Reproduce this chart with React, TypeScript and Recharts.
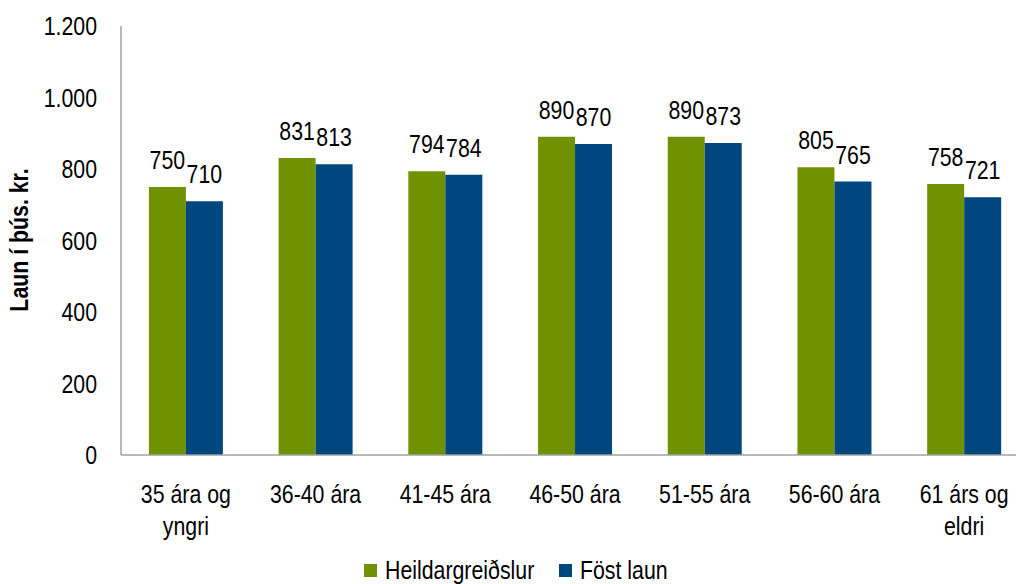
import { BarChart, Bar, XAxis, YAxis, Legend, LabelList } from "recharts";

const categories = [
  "35 ára og\nyngri",
  "36-40 ára",
  "41-45 ára",
  "46-50 ára",
  "51-55 ára",
  "56-60 ára",
  "61 árs og\neldri",
];
const heildar = [750, 831, 794, 890, 890, 805, 758];
const fost = [710, 813, 784, 870, 873, 765, 721];
const yTicks = [0, 200, 400, 600, 800, 1000, 1200];

const data = categories.map((name, i) => ({
  name,
  Heildargreiðslur: heildar[i],
  "Föst laun": fost[i],
}));

// no Arial Narrow available, so squeeze Liberation Sans horizontally
const FONT = "'Liberation Sans', Arial, sans-serif";
const SQUEEZE = 0.82;
const SIZE = 26;
const GREEN = "#709200";
const BLUE = "#00467f";

const fmt = (v: number) => v.toLocaleString("de-DE");

const NarrowText = ({ x, y, anchor = "middle", rotate = 0, bold = false, children }: any) => (
  <g transform={`translate(${x},${y}) rotate(${rotate}) scale(${SQUEEZE},1)`}>
    <text x={0} y={0} textAnchor={anchor} fontFamily={FONT} fontSize={SIZE} fontWeight={bold ? "bold" : "normal"} fill="#000">
      {children}
    </text>
  </g>
);

const XTick = (props: any) => {
  const { x, y, payload } = props;
  const lines = String(payload.value).split("\n");
  return (
    <g>
      {lines.map((l, i) => (
        <NarrowText key={i} x={x} y={y + 40 + i * 32}>
          {l}
        </NarrowText>
      ))}
    </g>
  );
};

const YTick = (props: any) => {
  const { x, y, payload } = props;
  return (
    <NarrowText x={x} y={y + 9} anchor="end">
      {fmt(payload.value)}
    </NarrowText>
  );
};

const BarLabel = (props: any) => {
  const { x, y, width, value } = props;
  return (
    <NarrowText x={x + width / 2} y={y - 18}>
      {value}
    </NarrowText>
  );
};

const LegendContent = () => (
  <svg width={340} height={30} style={{ display: "block" }}>
    <rect x={0} y={10} width={13} height={13} fill={GREEN} />
    <NarrowText x={21} y={25} anchor="start">
      Heildargreiðslur
    </NarrowText>
    <rect x={195} y={10} width={13} height={13} fill={BLUE} />
    <NarrowText x={216} y={25} anchor="start">
      Föst laun
    </NarrowText>
  </svg>
);

const App = () => {
  return (
    <div style={{ position: "absolute", left: 0, top: 0, width: 1016, height: 584, overflow: "hidden", background: "#fff" }}>
      <BarChart
        width={1040}
        height={584}
        data={data}
        margin={{ top: 26, right: 11, left: 0, bottom: 0 }}
        barCategoryGap="21.5%"
        barGap={0}
      >
        <XAxis
          dataKey="name"
          tick={<XTick />}
          tickLine={false}
          axisLine={{ stroke: "#a0a0a0", strokeWidth: 1.5 }}
          height={99}
          interval={0}
        />
        <YAxis
          width={121}
          domain={[0, 1200]}
          ticks={yTicks}
          tickLine={false}
          tickSize={0}
          tickMargin={24}
          axisLine={{ stroke: "#a0a0a0", strokeWidth: 1.5 }}
          tick={<YTick />}
          label={{
            content: () => (
              <NarrowText x={28} y={240} rotate={-90} bold>
                Laun í þús. kr.
              </NarrowText>
            ),
          }}
        />
        <Legend
          verticalAlign="bottom"
          content={<LegendContent />}
          wrapperStyle={{ left: 364, width: 340, height: 30, bottom: 0 }}
        />
        <Bar dataKey="Heildargreiðslur" fill={GREEN} isAnimationActive={false}>
          <LabelList dataKey="Heildargreiðslur" content={<BarLabel />} />
        </Bar>
        <Bar dataKey="Föst laun" fill={BLUE} isAnimationActive={false}>
          <LabelList dataKey="Föst laun" content={<BarLabel />} />
        </Bar>
      </BarChart>
    </div>
  );
};

export default App;
